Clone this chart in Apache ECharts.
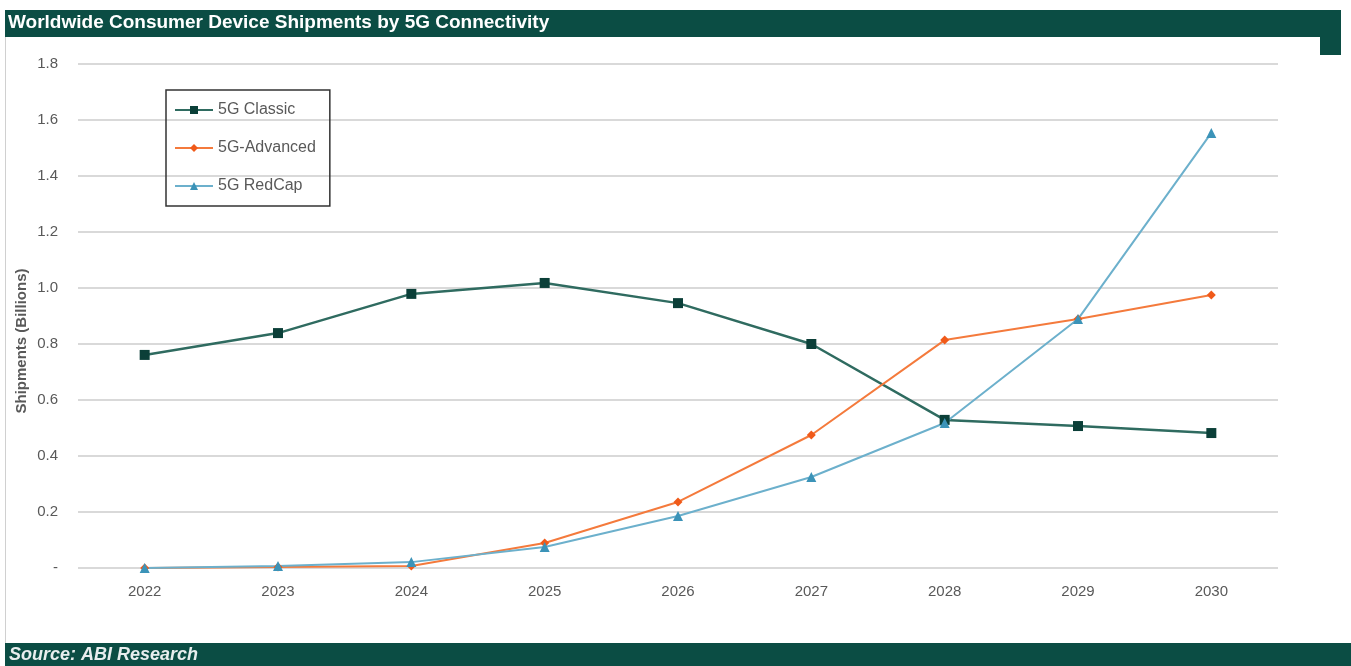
<!DOCTYPE html>
<html><head><meta charset="utf-8">
<script src="https://cdn.jsdelivr.net/npm/echarts@6/dist/echarts.min.js"></script>
<style>html,body{margin:0;padding:0;background:#fff}#c{width:1351px;height:666px}</style>
</head><body><div id="c"></div>
<script>
const years = ['2022','2023','2024','2025','2026','2027','2028','2029','2030'];
const classic = [0.761, 0.839, 0.979, 1.018, 0.946, 0.800, 0.529, 0.507, 0.482];
const advanced = [0.000, 0.004, 0.007, 0.089, 0.236, 0.475, 0.814, 0.889, 0.975];
const redcap = [0.000, 0.007, 0.021, 0.075, 0.186, 0.325, 0.518, 0.889, 1.554];
const yTicks = ['-', '0.2', '0.4', '0.6', '0.8', '1.0', '1.2', '1.4', '1.6', '1.8'];

const green = '#0b4d44';
const chart = echarts.init(document.getElementById('c'));
chart.setOption({
  backgroundColor: '#fff',
  animation: false,
  graphic: [
    {type:'rect', shape:{x:5,y:10,width:1336,height:27}, style:{fill:green}},
    {type:'rect', shape:{x:1320,y:37,width:21,height:18}, style:{fill:green}},
    {type:'rect', shape:{x:5,y:643,width:1346,height:23}, style:{fill:green}},
    {type:'line', shape:{x1:5.5,y1:37,x2:5.5,y2:643}, style:{stroke:'#d0d0d0',lineWidth:1}},
    {type:'text', left:8, top:13, style:{text:'Worldwide Consumer Device Shipments by 5G Connectivity', fill:'#fff', font:'bold 19px Arial, "Liberation Sans", sans-serif'}},
    {type:'text', left:9, top:646, style:{text:'Source: ABI Research', fill:'#e8eeee', font:'italic bold 18px Arial, "Liberation Sans", sans-serif'}},
    {type:'text', x:22, y:341, rotation:Math.PI/2, style:{text:'Shipments (Billions)', fill:'#595959', align:'center', verticalAlign:'middle', font:'bold 15px Arial, "Liberation Sans", sans-serif'}}
  ],
  legend: {
    orient:'vertical', left:166, top:90,
    padding:[12,14,12,8], itemGap:22, itemWidth:38, itemHeight:10,
    borderColor:'#333', borderWidth:1.5,
    textStyle:{color:'#595959', fontSize:16, fontFamily:'Arial, "Liberation Sans", sans-serif'},
    data:['5G Classic','5G-Advanced','5G RedCap']
  },
  grid: {left:78, right:73, top:64, bottom:98, containLabel:false},
  xAxis: {
    type:'category', data:years, boundaryGap:true,
    axisLine:{show:false}, axisTick:{show:false},
    axisLabel:{color:'#595959', fontSize:15, margin:16, fontFamily:'Arial, "Liberation Sans", sans-serif'}
  },
  yAxis: {
    type:'value', min:0, max:1.8, interval:0.2,
    axisLine:{show:false}, axisTick:{show:false},
    axisLabel:{color:'#595959', fontSize:15, margin:20, fontFamily:'Arial, "Liberation Sans", sans-serif',
      formatter:(v)=> yTicks[Math.round(v/0.2)]},
    splitLine:{lineStyle:{color:'#d9d9d9', width:2}}
  },
  series: [
    {name:'5G Classic', type:'line', data:classic, symbol:'rect', symbolSize:10,
      lineStyle:{color:'#2f6b60', width:2.5}, itemStyle:{color:'#0b3f38'}},
    {name:'5G-Advanced', type:'line', data:advanced, symbol:'diamond', symbolSize:9,
      lineStyle:{color:'#f47a3c', width:2}, itemStyle:{color:'#f05a1a'}},
    {name:'5G RedCap', type:'line', data:redcap, symbol:'triangle', symbolSize:10,
      lineStyle:{color:'#6cb0cc', width:2}, itemStyle:{color:'#3b93b8'}}
  ]
});
</script></body></html>
